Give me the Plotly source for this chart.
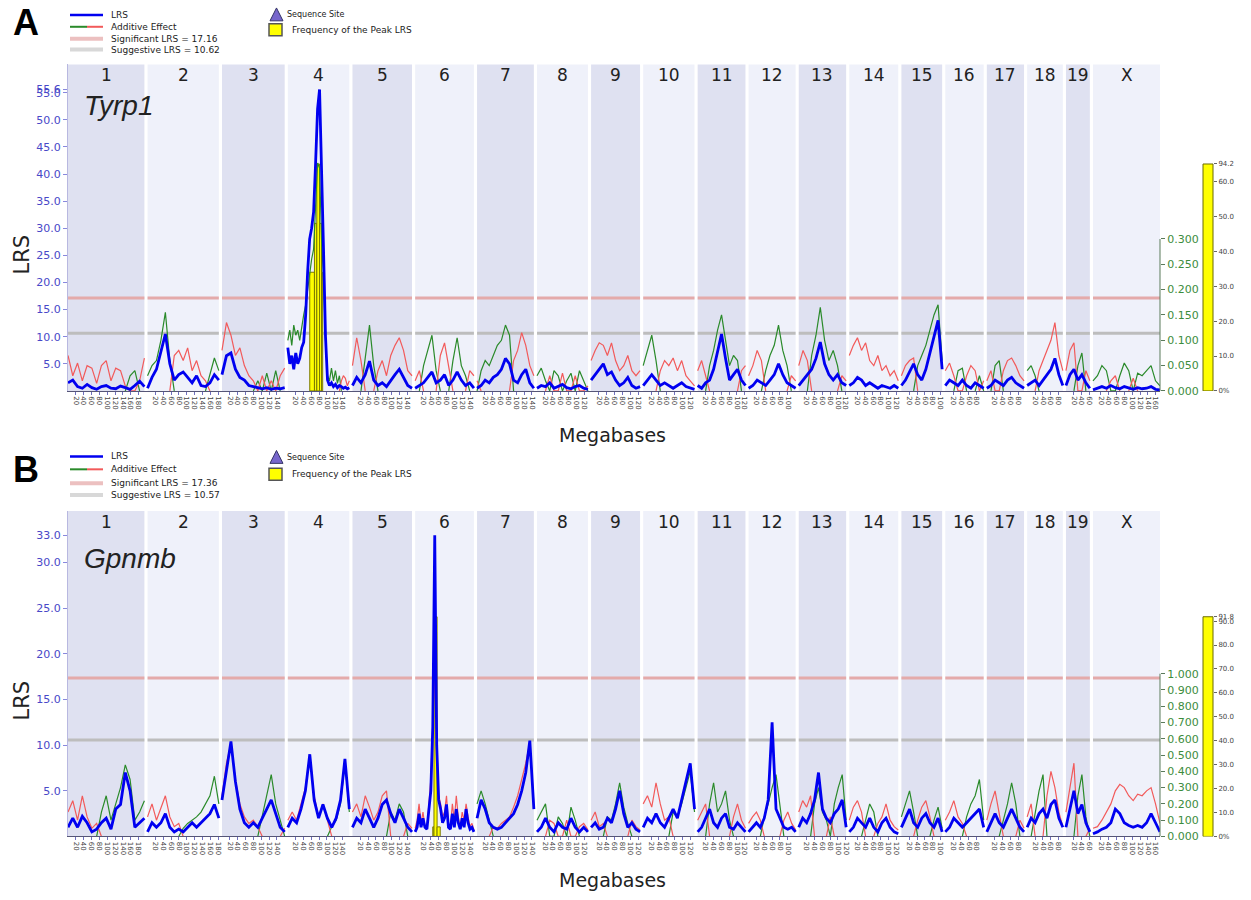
import numpy as np
import plotly.graph_objects as go

W, H = 1251, 900

chrom_names = ['1', '2', '3', '4', '5', '6', '7', '8', '9', '10',
               '11', '12', '13', '14', '15', '16', '17', '18', '19', 'X']
chrom_len_mb = [195, 182, 160, 157, 152, 150, 145, 130, 125, 131,
                122, 120, 121, 125, 104, 98, 95, 91, 61, 171]
chrom_gap_mb = 8
tick_step_mb = 20

# ---------------- Panel A : Tyrp1 ----------------
A_gene = 'Tyrp1'
A_sig = 17.16
A_sug = 10.62
A_lrs_top_tick = 55.6
A_seq_site = ('4', 80.8)
A_freq_chrom = '4'
A_freq_start = [56, 68, 74, 81, 86]
A_freq_end = [68, 74, 81, 86, 89]
A_freq_val = [34, 48, 65, 48, 34]
A_freq_scale_top = 65
A_freq_top_label = '94.2'

A_lrs_1 = [1.5, 2.0, 0.8, 0.5, 1.2, 0.6, 0.3, 0.8, 1.0, 0.5, 0.4, 0.9, 0.6, 0.3, 1.0, 1.8, 0.8]
A_lrs_2 = [0.5, 2.5, 4.0, 7.0, 10.5, 5.0, 2.0, 3.0, 3.5, 2.5, 1.5, 2.8, 1.0, 0.8, 1.5, 3.0, 2.0]
A_lrs_3 = [3.0, 6.5, 7.0, 4.0, 2.5, 2.0, 1.0, 0.8, 0.5, 0.4, 0.6, 0.3, 0.5, 0.4, 0.6]
A_lrs_4 = [8.0, 5.0, 6.5, 4.0, 7.0, 5.0, 6.0, 8.0, 9.0, 14.0, 22.0, 28.0, 30.0, 33.0, 42.0, 52.0,
           55.6, 38.0, 26.0, 10.0, 2.0, 1.0, 1.5, 0.8, 1.2, 0.6, 1.0, 0.8, 0.5, 0.7, 0.4, 0.6]
A_lrs_5 = [1.0, 2.5, 1.5, 3.0, 5.5, 2.0, 1.0, 1.5, 0.8, 2.0, 3.0, 4.0, 2.5, 1.0, 0.5]
A_lrs_6 = [0.5, 1.0, 1.5, 2.5, 3.5, 1.5, 2.0, 3.0, 1.0, 2.0, 3.5, 2.0, 1.0, 1.5, 0.5]
A_lrs_7 = [0.5, 1.0, 2.0, 1.5, 2.5, 3.0, 4.0, 6.0, 5.0, 2.0, 1.5, 3.0, 4.0, 1.5, 0.5]
A_lrs_8 = [0.5, 1.0, 0.8, 1.5, 0.5, 0.8, 1.2, 0.6, 0.4, 0.8, 1.0, 0.5, 0.3]
A_lrs_9 = [2.0, 3.0, 4.0, 5.0, 3.0, 3.5, 2.0, 1.0, 1.5, 2.5, 1.0, 0.5, 0.8]
A_lrs_10 = [1.0, 2.0, 3.0, 2.0, 1.0, 1.5, 1.0, 0.5, 1.0, 1.5, 0.8, 0.5, 0.3]
A_lrs_11 = [1.0, 0.5, 1.5, 2.0, 4.0, 7.0, 10.5, 6.0, 2.0, 3.0, 4.0, 2.0, 1.0]
A_lrs_12 = [0.5, 1.0, 2.0, 1.5, 1.0, 2.0, 3.0, 5.0, 3.0, 1.5, 1.0, 0.5]
A_lrs_13 = [1.0, 2.0, 3.0, 4.0, 6.0, 9.0, 5.0, 3.0, 2.0, 3.0, 1.5, 1.0]
A_lrs_14 = [1.0, 1.5, 2.5, 2.0, 1.0, 1.5, 1.0, 0.5, 1.0, 0.8, 0.5, 1.0, 0.5]
A_lrs_15 = [1.0, 2.0, 3.5, 5.0, 3.0, 2.0, 4.0, 7.0, 10.0, 13.0, 4.0]
A_lrs_16 = [1.0, 2.0, 1.5, 1.0, 2.0, 1.0, 0.5, 1.5, 1.0, 0.5]
A_lrs_17 = [0.5, 1.0, 2.0, 1.5, 1.0, 2.0, 2.5, 1.5, 1.0, 0.5]
A_lrs_18 = [1.0, 1.5, 2.0, 1.0, 2.0, 3.0, 4.0, 6.0, 3.0, 1.0]
A_lrs_19 = [1.0, 3.0, 4.0, 2.0, 3.0, 1.5, 0.5]
A_lrs_X = [0.2, 0.5, 0.8, 0.5, 1.0, 0.6, 0.4, 0.8, 0.5, 0.3, 0.6, 0.4, 0.5, 0.8, 0.3, 0.2]

A_add_1 = [0.07, 0.03, 0.055, 0.02, 0.05, 0.045, 0.015, 0.05, 0.06, 0.02, 0.045, 0.04, 0.01, -0.03, -0.04, 0.02, 0.065]
A_add_2 = [-0.03, -0.05, -0.06, -0.10, -0.155, -0.06, 0.07, 0.08, 0.06, 0.085, 0.04, 0.06, 0.03, 0.02, -0.03, -0.065, -0.04]
A_add_3 = [0.08, 0.135, 0.11, 0.07, 0.085, 0.05, 0.03, 0.02, -0.02, 0.03, -0.035, 0.02, -0.04, 0.03, 0.045]
A_add_4 = [-0.10, -0.12, -0.09, -0.13, -0.11, -0.12, -0.10, -0.13, -0.15, -0.17, -0.20, -0.24, -0.26, -0.28, -0.36, -0.45,
           -0.44, -0.30, -0.22, -0.10, -0.03, -0.02, -0.045, -0.02, -0.04, -0.015, -0.03, 0.02, 0.03, 0.025, 0.01, 0.02]
A_add_5 = [0.05, 0.105, 0.06, -0.06, -0.13, -0.05, 0.04, 0.06, 0.03, 0.07, 0.09, 0.105, 0.08, 0.04, 0.03]
A_add_6 = [0.02, 0.04, -0.05, -0.08, -0.11, -0.04, 0.07, 0.095, 0.05, -0.06, -0.105, -0.05, -0.03, 0.04, 0.03]
A_add_7 = [0.02, -0.04, -0.06, -0.05, -0.07, -0.09, -0.10, -0.13, -0.11, 0.06, 0.08, 0.115, 0.09, 0.05, 0.03]
A_add_8 = [-0.03, -0.045, -0.02, 0.03, -0.04, -0.03, 0.035, -0.02, -0.035, 0.03, -0.04, -0.02, 0.01]
A_add_9 = [0.06, 0.08, 0.095, 0.09, 0.07, 0.095, 0.06, 0.04, 0.05, 0.07, 0.04, 0.03, 0.04]
A_add_10 = [-0.05, -0.08, -0.11, -0.06, 0.04, 0.06, 0.05, 0.065, 0.04, 0.06, 0.03, 0.02, 0.01]
A_add_11 = [0.04, 0.06, 0.03, -0.05, -0.08, -0.12, -0.15, -0.10, -0.05, -0.07, -0.06, 0.04, 0.05]
A_add_12 = [0.03, 0.05, 0.08, 0.06, -0.04, -0.07, -0.09, -0.13, -0.08, -0.05, 0.03, 0.02]
A_add_13 = [0.05, 0.08, 0.06, -0.07, -0.11, -0.165, -0.10, -0.06, -0.08, -0.05, 0.03, 0.02]
A_add_14 = [0.07, 0.09, 0.105, 0.08, 0.095, 0.06, 0.05, 0.07, 0.04, 0.05, 0.03, 0.04, 0.02]
A_add_15 = [0.03, 0.05, 0.06, 0.065, -0.05, -0.07, -0.09, -0.12, -0.15, -0.17, -0.06]
A_add_16 = [0.04, 0.055, 0.03, -0.04, -0.045, 0.03, 0.05, 0.04, -0.03, 0.02]
A_add_17 = [0.02, 0.04, -0.05, -0.06, 0.04, 0.06, 0.065, 0.05, 0.03, 0.02]
A_add_18 = [-0.04, -0.05, -0.03, 0.04, 0.06, 0.08, 0.10, 0.135, 0.07, 0.04]
A_add_19 = [0.04, 0.08, 0.095, -0.05, -0.075, 0.04, 0.02]
A_add_X = [-0.02, -0.03, -0.05, -0.04, 0.02, 0.03, -0.03, -0.055, -0.04, 0.025, -0.035, -0.03, -0.04, -0.05, -0.02, -0.01]

# ---------------- Panel B : Gpnmb ----------------
B_gene = 'Gpnmb'
B_sig = 17.36
B_sug = 10.57
B_lrs_top_tick = 33.0
B_seq_site = ('6', 49.0)
B_freq_chrom = '6'
B_freq_start = [45, 48, 56]
B_freq_end = [48, 56, 64]
B_freq_val = [4, 91.8, 4]
B_freq_scale_top = 91.8
B_freq_top_label = '91.8'

B_lrs_1 = [1.0, 2.0, 1.0, 2.2, 1.5, 0.5, 0.8, 1.5, 2.0, 0.8, 3.0, 3.5, 7.0, 5.0, 1.0, 1.5, 2.0]
B_lrs_2 = [0.5, 1.5, 1.0, 1.5, 2.5, 1.0, 0.5, 0.8, 0.5, 1.0, 1.5, 1.0, 1.5, 2.0, 2.5, 3.5, 2.0]
B_lrs_3 = [4.0, 7.0, 10.4, 6.0, 3.0, 1.5, 1.0, 1.5, 1.0, 2.0, 3.0, 4.0, 2.5, 1.0, 0.5]
B_lrs_4 = [1.0, 2.0, 1.5, 3.0, 5.0, 9.0, 4.0, 2.0, 3.5, 2.0, 1.0, 2.0, 4.0, 8.5, 3.0]
B_lrs_5 = [1.0, 2.0, 1.5, 3.0, 2.0, 1.0, 2.0, 3.5, 4.0, 2.5, 1.5, 3.0, 2.0, 1.0, 0.5]
B_lrs_6 = [0.5, 1.0, 2.5, 1.0, 2.0, 1.0, 0.8, 3.0, 5.0, 12.0, 33.0, 10.0, 4.0, 3.0, 1.5, 2.0,
           3.5, 1.0, 0.8, 2.5, 1.0, 3.0, 1.5, 0.8, 2.0, 1.0, 3.0, 1.5, 0.8, 1.0, 0.5]
B_lrs_7 = [2.0, 4.0, 3.0, 1.5, 1.0, 0.8, 1.0, 1.5, 2.0, 2.5, 3.5, 5.0, 7.0, 10.5, 3.0]
B_lrs_8 = [0.5, 1.0, 2.0, 1.0, 0.5, 1.5, 1.0, 0.8, 2.0, 1.0, 0.5, 1.0, 0.5]
B_lrs_9 = [1.0, 1.5, 0.8, 1.0, 2.0, 1.5, 3.0, 5.0, 2.5, 1.0, 1.5, 0.8, 0.5]
B_lrs_10 = [1.0, 2.0, 1.5, 2.5, 1.5, 1.0, 2.0, 3.0, 2.0, 4.0, 6.0, 8.0, 3.0]
B_lrs_11 = [0.5, 1.0, 2.0, 3.0, 1.5, 1.0, 2.0, 2.5, 1.0, 0.8, 1.5, 1.0, 0.5]
B_lrs_12 = [0.5, 1.0, 1.5, 1.0, 2.0, 4.0, 12.5, 3.0, 2.0, 1.0, 0.8, 1.0, 0.5]
B_lrs_13 = [1.0, 2.0, 1.5, 2.5, 4.0, 7.0, 3.0, 2.0, 1.5, 2.5, 3.0, 4.0, 1.0]
B_lrs_14 = [0.5, 1.0, 2.0, 1.5, 1.0, 2.0, 1.0, 0.5, 1.5, 2.0, 1.0, 0.5, 0.3]
B_lrs_15 = [1.0, 2.0, 3.0, 1.5, 1.0, 2.0, 2.5, 1.5, 1.0, 2.0, 0.5]
B_lrs_16 = [0.5, 1.0, 2.0, 1.5, 1.0, 1.5, 2.0, 2.5, 3.0, 1.0]
B_lrs_17 = [0.5, 1.5, 2.5, 1.5, 1.0, 2.0, 3.0, 2.0, 1.0, 0.5]
B_lrs_18 = [1.0, 2.0, 1.5, 2.5, 3.0, 2.0, 3.5, 4.0, 2.0, 1.0]
B_lrs_19 = [1.0, 3.0, 5.0, 2.5, 3.5, 1.5, 0.5]
B_lrs_X = [0.3, 0.5, 0.8, 1.0, 1.5, 3.0, 2.5, 1.5, 1.2, 1.0, 1.2, 1.0, 1.5, 2.5, 1.5, 0.5]

B_add_1 = [0.15, 0.22, 0.10, 0.25, 0.12, 0.05, 0.08, -0.15, -0.25, -0.10, -0.20, -0.30, -0.44, -0.35, -0.10, -0.15, -0.22]
B_add_2 = [0.12, 0.20, 0.10, 0.18, 0.25, 0.12, 0.06, 0.08, -0.05, -0.08, -0.10, -0.12, -0.15, -0.20, -0.25, -0.37, -0.20]
B_add_3 = [0.25, 0.45, 0.57, 0.35, 0.20, 0.12, 0.08, 0.10, 0.06, -0.12, -0.25, -0.38, -0.20, -0.10, 0.05]
B_add_4 = [0.10, 0.15, 0.10, 0.20, 0.30, 0.50, 0.25, 0.12, 0.20, 0.10, -0.06, -0.10, -0.20, -0.45, -0.15]
B_add_5 = [0.15, 0.20, 0.12, 0.25, 0.18, 0.10, 0.15, 0.25, 0.28, -0.15, -0.10, -0.20, -0.15, 0.08, 0.05]
B_add_6 = [0.05, 0.10, 0.20, 0.08, 0.15, 0.06, 0.05, 0.20, 0.35, 0.70, 1.00, 0.60, 0.25, 0.20, 0.12, 0.15,
           0.25, 0.08, 0.06, 0.20, 0.10, 0.25, 0.12, 0.05, 0.15, 0.10, 0.20, 0.12, 0.06, 0.08, 0.04]
B_add_7 = [-0.20, -0.28, -0.20, -0.10, 0.06, 0.05, 0.08, 0.10, 0.12, 0.18, 0.25, 0.35, 0.45, 0.58, 0.20]
B_add_8 = [-0.10, -0.15, -0.20, 0.10, 0.08, -0.12, -0.08, 0.10, -0.18, -0.10, 0.06, 0.08, 0.04]
B_add_9 = [0.10, 0.15, 0.06, 0.08, -0.12, -0.10, -0.20, -0.33, -0.18, -0.08, 0.10, 0.06, 0.04]
B_add_10 = [0.20, 0.25, 0.18, 0.33, 0.20, 0.10, 0.12, -0.15, -0.12, -0.20, -0.30, -0.40, -0.15]
B_add_11 = [0.10, 0.15, 0.20, -0.20, -0.33, -0.15, -0.20, -0.28, -0.10, 0.12, 0.20, 0.10, 0.05]
B_add_12 = [0.08, 0.12, 0.15, 0.10, -0.12, -0.20, -0.30, -0.38, -0.20, 0.10, 0.15, 0.08, 0.04]
B_add_13 = [0.15, 0.22, 0.18, 0.25, -0.20, -0.30, -0.15, -0.10, 0.12, -0.20, -0.30, -0.38, -0.10]
B_add_14 = [0.10, 0.18, 0.22, 0.15, -0.10, -0.20, -0.15, 0.08, 0.12, 0.20, 0.10, 0.06, 0.04]
B_add_15 = [-0.12, -0.20, -0.28, -0.15, 0.10, 0.18, 0.22, 0.12, -0.10, -0.18, -0.05]
B_add_16 = [0.10, 0.15, 0.22, 0.12, 0.08, -0.12, -0.20, -0.25, -0.35, -0.10]
B_add_17 = [0.10, 0.20, 0.28, 0.15, -0.10, -0.20, -0.33, -0.20, 0.10, 0.05]
B_add_18 = [0.12, 0.20, -0.15, -0.28, -0.38, 0.25, 0.40, 0.30, 0.15, 0.06]
B_add_19 = [0.15, 0.30, 0.45, -0.25, -0.38, -0.12, 0.05]
B_add_X = [0.05, 0.06, 0.10, 0.15, 0.20, 0.28, 0.32, 0.30, 0.25, 0.22, 0.26, 0.25, 0.28, 0.30, 0.20, 0.08]

A_lrs = [A_lrs_1, A_lrs_2, A_lrs_3, A_lrs_4, A_lrs_5, A_lrs_6, A_lrs_7, A_lrs_8, A_lrs_9, A_lrs_10,
         A_lrs_11, A_lrs_12, A_lrs_13, A_lrs_14, A_lrs_15, A_lrs_16, A_lrs_17, A_lrs_18, A_lrs_19, A_lrs_X]
A_add = [A_add_1, A_add_2, A_add_3, A_add_4, A_add_5, A_add_6, A_add_7, A_add_8, A_add_9, A_add_10,
         A_add_11, A_add_12, A_add_13, A_add_14, A_add_15, A_add_16, A_add_17, A_add_18, A_add_19, A_add_X]
B_lrs = [B_lrs_1, B_lrs_2, B_lrs_3, B_lrs_4, B_lrs_5, B_lrs_6, B_lrs_7, B_lrs_8, B_lrs_9, B_lrs_10,
         B_lrs_11, B_lrs_12, B_lrs_13, B_lrs_14, B_lrs_15, B_lrs_16, B_lrs_17, B_lrs_18, B_lrs_19, B_lrs_X]
B_add = [B_add_1, B_add_2, B_add_3, B_add_4, B_add_5, B_add_6, B_add_7, B_add_8, B_add_9, B_add_10,
         B_add_11, B_add_12, B_add_13, B_add_14, B_add_15, B_add_16, B_add_17, B_add_18, B_add_19, B_add_X]

# ---------------- geometry helpers ----------------
offsets = []
acc = 0
for L in chrom_len_mb:
    offsets.append(acc)
    acc += L + chrom_gap_mb
total_mb = acc - chrom_gap_mb
chrom_idx = {n: i for i, n in enumerate(chrom_names)}


def cum(chrom, mb):
    return offsets[chrom_idx[chrom]] + mb


def px(x):
    return x / W


def py(y):
    return 1 - y / H


def lrs_xy(lists):
    xs, ys = [], []
    for i, vals in enumerate(lists):
        pos = offsets[i] + np.linspace(0, chrom_len_mb[i], len(vals))
        xs += list(pos) + [None]
        ys += list(vals) + [None]
    return xs, ys


def add_xy(lists, sign):
    xs, ys = [], []
    for i, vals in enumerate(lists):
        v = np.array(vals) * sign
        n = len(v)
        pos = offsets[i] + np.linspace(0, chrom_len_mb[i], n)
        for j in range(n):
            near = v[j] > 0 or (j > 0 and v[j - 1] > 0) or (j < n - 1 and v[j + 1] > 0)
            xs.append(pos[j])
            ys.append(max(v[j], 0) if near else None)
        xs.append(None)
        ys.append(None)
    return xs, ys


tickvals, ticktext = [], []
for i, L in enumerate(chrom_len_mb):
    for mb in range(tick_step_mb, L, tick_step_mb):
        tickvals.append(offsets[i] + mb)
        ticktext.append(str(mb))

FONT = 'DejaVu Sans'
BLUE = '#0000f0'
RED = '#f25a5a'
GREEN = '#2a8a2a'
ODD_BG = '#dfe1f1'
EVEN_BG = '#eff1fa'

fig = go.Figure()
shapes = []
annotations = []


def note(x, y, text, size, color='#222222', family=FONT, xanchor='center', **kw):
    annotations.append(dict(x=x, y=y, xref='paper', yref='paper', text=text, showarrow=False,
                            xanchor=xanchor, yanchor='middle',
                            font=dict(family=family, size=size, color=color), **kw))


panels = [
    dict(gene=A_gene, sig=A_sig, sug=A_sug, lrs=A_lrs, add=A_add, top=A_lrs_top_tick, seq=A_seq_site,
         fchrom=A_freq_chrom, fs=A_freq_start, fe=A_freq_end, fv=A_freq_val, ftop=A_freq_scale_top,
         flab=A_freq_top_label, letter='A',
         xa='x', yf='y', ya='y3', yl='y4', ytop=65, ybot=394,
         lrs_range=60.2, add_range=0.6445, add_ticks=[0, 0.05, 0.10, 0.15, 0.20, 0.25, 0.30],
         freq_range=93.5, freq_ticks=[0, 10, 20, 30, 40, 50, 60],
         lrs_ticks=[5, 10, 15, 20, 25, 30, 35, 40, 45, 50, 55],
         leg_y=[15, 27, 39, 50], leg_tri=15, leg_sq=30, letter_y=23, gene_xy=(119, 106)),
    dict(gene=B_gene, sig=B_sig, sug=B_sug, lrs=B_lrs, add=B_add, top=B_lrs_top_tick, seq=B_seq_site,
         fchrom=B_freq_chrom, fs=B_freq_start, fe=B_freq_end, fv=B_freq_val, ftop=B_freq_scale_top,
         flab=B_freq_top_label, letter='B',
         xa='x2', yf='y2', ya='y5', yl='y6', ytop=515, ybot=843,
         lrs_range=35.65, add_range=2.0,
         add_ticks=[0, 0.1, 0.2, 0.3, 0.4, 0.5, 0.6, 0.7, 0.8, 0.9, 1.0],
         freq_range=136.0, freq_ticks=[0, 10, 20, 30, 40, 50, 60, 70, 80, 90],
         lrs_ticks=[5, 10, 15, 20, 25, 30],
         leg_y=[460, 473, 487, 499], leg_tri=461, leg_sq=478, letter_y=473, gene_xy=(130, 563)),
]

layout_axes = {}
for k, P in enumerate(panels):
    sfx = '' if k == 0 else '2'
    dom_y = [py(P['ybot']), py(P['ytop'])]
    xa, yf, ya, yl = P['xa'], P['yf'], P['ya'], P['yl']

    # frequency bars (base subplot, drawn first)
    ci = chrom_idx[P['fchrom']]
    centers = [offsets[ci] + (s + e) / 2 for s, e in zip(P['fs'], P['fe'])]
    widths = [e - s for s, e in zip(P['fs'], P['fe'])]
    fig.add_trace(go.Bar(x=centers, y=P['fv'], width=widths, xaxis=xa, yaxis=yf,
                         marker=dict(color='#ffff00', line=dict(color='#7a7a00', width=1)),
                         hoverinfo='skip'))
    # additive effect
    gx, gy = add_xy(P['add'], -1)
    rx, ry = add_xy(P['add'], 1)
    fig.add_trace(go.Scatter(x=gx, y=gy, mode='lines', xaxis=xa, yaxis=ya,
                             line=dict(color=GREEN, width=1.2), hoverinfo='skip'))
    fig.add_trace(go.Scatter(x=rx, y=ry, mode='lines', xaxis=xa, yaxis=ya,
                             line=dict(color=RED, width=1.2), hoverinfo='skip'))
    # LRS
    lx, ly = lrs_xy(P['lrs'])
    fig.add_trace(go.Scatter(x=lx, y=ly, mode='lines', xaxis=xa, yaxis=yl,
                             line=dict(color=BLUE, width=2.8), hoverinfo='skip'))
    # sequence site
    lrs_per_px = P['lrs_range'] / (P['ybot'] - P['ytop'])
    fig.add_trace(go.Scatter(x=[cum(*P['seq'])], y=[-5 * lrs_per_px], mode='markers', xaxis=xa, yaxis=yl,
                             marker=dict(symbol='triangle-up', size=11, color='#7766cc',
                                         line=dict(color='#333366', width=1)),
                             cliponaxis=False, hoverinfo='skip'))

    # chromosome bands, threshold lines, chromosome labels
    for i, L in enumerate(chrom_len_mb):
        x0, x1 = offsets[i], offsets[i] + L
        shapes.append(dict(type='rect', xref=xa, yref='paper', x0=x0, x1=x1, y0=dom_y[0], y1=dom_y[1],
                           fillcolor=ODD_BG if i % 2 == 0 else EVEN_BG, line=dict(width=0), layer='below'))
        shapes.append(dict(type='line', xref=xa, yref=yl, x0=x0, x1=x1, y0=P['sig'], y1=P['sig'],
                           line=dict(color='#e4aaaa', width=3), layer='below'))
        shapes.append(dict(type='line', xref=xa, yref=yl, x0=x0, x1=x1, y0=P['sug'], y1=P['sug'],
                           line=dict(color='#bdbdbd', width=3), layer='below'))
        annotations.append(dict(x=(x0 + x1) / 2, y=py(P['ytop'] + 11), xref=xa, yref='paper',
                                text=chrom_names[i], showarrow=False, xanchor='center', yanchor='middle',
                                font=dict(family=FONT, size=17, color='#222222')))

    # green additive axis line (0 to max tick)
    shapes.append(dict(type='line', xref='paper', yref=ya, x0=px(1160), x1=px(1160),
                       y0=0, y1=P['add_ticks'][-1], line=dict(color='#5a7a5a', width=1)))
    # yellow frequency scale bar
    shapes.append(dict(type='rect', xref='paper', yref=yf, x0=px(1203), x1=px(1213),
                       y0=0, y1=P['ftop'], fillcolor='#ffff00', line=dict(color='#6b6b00', width=1)))

    # axes
    layout_axes['xaxis' + sfx] = dict(domain=[px(68), px(1160)], range=[0, total_mb], anchor=yf,
                                      tickmode='array', tickvals=tickvals, ticktext=ticktext,
                                      tickangle=90, tickfont=dict(family=FONT, size=7, color='#444444'),
                                      ticks='outside', ticklen=3, tickcolor='#7070c0',
                                      showline=True, linecolor='#555577', linewidth=1,
                                      showgrid=False, zeroline=False)
    layout_axes['yaxis' + ('' if k == 0 else '2')] = dict(
        domain=dom_y, range=[0, P['freq_range']], anchor='free', position=px(1213), side='right',
        tickmode='array', tickvals=P['freq_ticks'] + [P['ftop']],
        ticktext=['0%'] + ['%.1f' % v for v in P['freq_ticks'][1:]] + [P['flab']],
        tickfont=dict(family=FONT, size=7, color='#444444'), ticks='outside', ticklen=3,
        tickcolor='#666666', showgrid=False, zeroline=False, showline=False)
    layout_axes['yaxis' + ya[1:]] = dict(
        overlaying=yf, anchor=xa, side='right', range=[0, P['add_range']],
        tickmode='array', tickvals=P['add_ticks'], ticktext=['%.3f' % v for v in P['add_ticks']],
        tickfont=dict(family=FONT, size=11, color='#3c8c3c'), ticks='outside', ticklen=4,
        tickcolor='#5a7a5a', showgrid=False, zeroline=False, showline=False)
    layout_axes['yaxis' + yl[1:]] = dict(
        overlaying=yf, anchor=xa, side='left', range=[0, P['lrs_range']],
        tickmode='array', tickvals=P['lrs_ticks'] + [P['top']],
        ticktext=['%.1f' % v for v in P['lrs_ticks']] + ['%.1f' % P['top']],
        tickfont=dict(family=FONT, size=11, color='#4848c8'), ticks='outside', ticklen=4,
        tickcolor='#8888dd', showgrid=False, zeroline=False, showline=True, linecolor='#b8b8e0')

    # titles and texts
    note(px(612), py(P['ybot'] + 44), 'Megabases', 19)
    note(px(22), py((P['ytop'] + P['ybot']) / 2 + 27), 'LRS', 21, textangle=-90)
    note(px(P['gene_xy'][0]), py(P['gene_xy'][1]), '<i>%s</i>' % P['gene'], 28, family='Liberation Sans')
    note(px(26), py(P['letter_y']), '<b>%s</b>' % P['letter'], 36, color='#000000', family='Liberation Sans')

    # legend
    ly0 = P['leg_y']
    shapes.append(dict(type='line', xref='paper', yref='paper', x0=px(70), x1=px(103),
                       y0=py(ly0[0]), y1=py(ly0[0]), line=dict(color=BLUE, width=2.5)))
    shapes.append(dict(type='line', xref='paper', yref='paper', x0=px(70), x1=px(87),
                       y0=py(ly0[1]), y1=py(ly0[1]), line=dict(color=GREEN, width=2)))
    shapes.append(dict(type='line', xref='paper', yref='paper', x0=px(87), x1=px(103),
                       y0=py(ly0[1]), y1=py(ly0[1]), line=dict(color=RED, width=2)))
    shapes.append(dict(type='line', xref='paper', yref='paper', x0=px(70), x1=px(103),
                       y0=py(ly0[2]), y1=py(ly0[2]), line=dict(color='#ecc0c0', width=4)))
    shapes.append(dict(type='line', xref='paper', yref='paper', x0=px(70), x1=px(103),
                       y0=py(ly0[3]), y1=py(ly0[3]), line=dict(color='#d8d8d8', width=4)))
    leg_texts = ['LRS', 'Additive Effect', 'Significant LRS = %.2f' % P['sig'],
                 'Suggestive LRS = %.2f' % P['sug']]
    for t, yy in zip(leg_texts, ly0):
        note(px(109), py(yy), t, 9, xanchor='left')
    ty = P['leg_tri']
    shapes.append(dict(type='path', xref='paper', yref='paper',
                       path='M %f,%f L %f,%f L %f,%f Z' % (px(270), py(ty + 6), px(283), py(ty + 6),
                                                           px(276.5), py(ty - 7)),
                       fillcolor='#7766cc', line=dict(color='#333366', width=1)))
    note(px(285), py(ty), 'Sequence Site', 8, xanchor='left')
    sy = P['leg_sq']
    shapes.append(dict(type='rect', xref='paper', yref='paper', x0=px(269), x1=px(282),
                       y0=py(sy + 6), y1=py(sy - 6), fillcolor='#ffff00',
                       line=dict(color='#555555', width=1.5)))
    note(px(290), py(sy), 'Frequency of the Peak LRS', 9, xanchor='left')

fig.update_layout(
    width=W, height=H, margin=dict(l=0, r=0, t=0, b=0),
    paper_bgcolor='white', plot_bgcolor='white', showlegend=False,
    shapes=shapes, annotations=annotations, **layout_axes)

fig.write_html('out.html')
